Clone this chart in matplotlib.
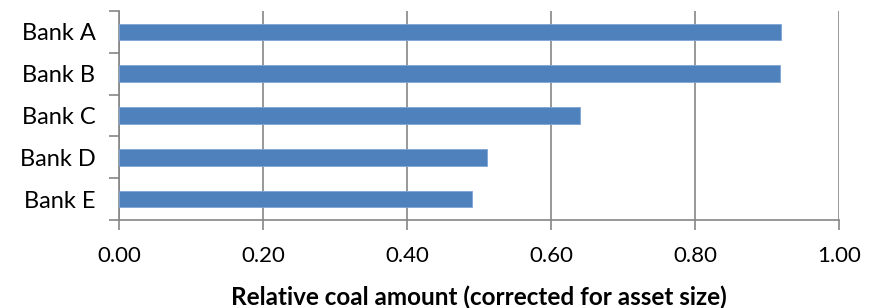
import matplotlib
matplotlib.use("Agg")
import matplotlib.pyplot as plt
from matplotlib.ticker import FixedLocator

banks = ["Bank A", "Bank B", "Bank C", "Bank D", "Bank E"]
values = [0.920, 0.918, 0.640, 0.511, 0.490]
xticks = [0.0, 0.2, 0.4, 0.6, 0.8, 1.0]
xticklabels = ["0.00", "0.20", "0.40", "0.60", "0.80", "1.00"]
xlabel = "Relative coal amount (corrected for asset size)"

plt.rcParams['font.family'] = ['Lato', 'DejaVu Sans']

fig = plt.figure(figsize=(8.76, 3.08), dpi=100)
W, H = 876, 308
x0, x1, y0, y1 = 119, 839, 11, 220
ax = fig.add_axes([x0 / W, 1 - y1 / H, (x1 - x0) / W, (y1 - y0) / H])

ypos = list(range(len(banks)))[::-1]
ax.barh(ypos, values, height=0.4, color="#4F81BD", edgecolor="#7FA5D6", linewidth=0.6, zorder=3)

ax.set_xlim(0, 1.0)
ax.set_ylim(-0.5, len(banks) - 0.5)
ax.set_xticks(xticks)
ax.set_xticklabels(xticklabels, fontsize=16)
ax.set_yticks(ypos)
ax.set_yticklabels(banks, fontsize=17)
ax.yaxis.set_minor_locator(FixedLocator([i - 0.5 for i in range(len(banks) + 1)]))
ax.tick_params(axis='y', which='major', length=0, pad=17)
ax.tick_params(axis='y', which='minor', length=7, width=1.2, color="#868686")
ax.tick_params(axis='x', which='major', length=7, width=1.2, color="#868686", pad=12)

ax.grid(axis='x', color="#868686", linewidth=1.2, zorder=0)
for s in ["top", "right"]:
    ax.spines[s].set_visible(False)
for s in ["left", "bottom"]:
    ax.spines[s].set_color("#868686")
    ax.spines[s].set_linewidth(1.2)

ax.set_xlabel(xlabel, fontsize=17.5, fontweight="bold", labelpad=14)

fig.savefig("out.png", dpi=100)
